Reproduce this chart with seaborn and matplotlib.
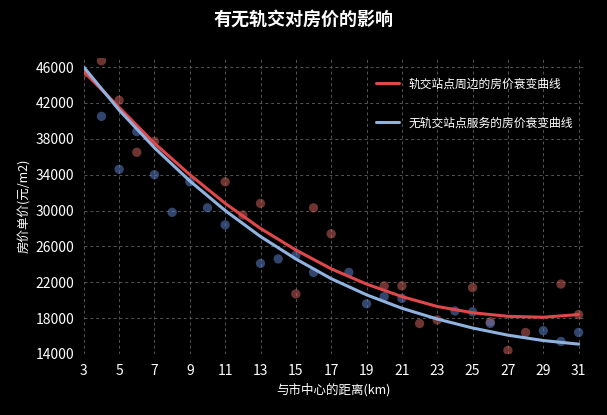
import matplotlib
matplotlib.use("Agg")
import matplotlib.pyplot as plt
import seaborn as sns
import pandas as pd

sns.set_style("dark")
plt.rcParams['font.family'] = ['Noto Sans CJK SC', 'DejaVu Sans']

red_x = [3,4,5,6,7,11,12,13,15,16,17,20,21,22,23,25,26,27,28,30,31]
red_y = [45300,46700,42300,36500,37700,33200,29500,30800,20700,30300,27400,21600,21600,17400,17800,21400,17600,14400,16400,21800,18400]
blue_x = [4,5,6,7,8,9,10,11,13,14,15,16,18,19,20,21,24,25,26,29,30,31]
blue_y = [40500,34600,38800,34000,29800,33200,30300,28400,24100,24600,25000,23100,23100,19600,20400,20200,18800,18700,17400,16600,15400,16400]
curve_x = [3,5,7,9,11,13,15,17,19,21,23,25,27,29,31]
red_curve = [45500,41500,37500,34000,30800,28000,25600,23500,21800,20400,19300,18600,18200,18100,18400]
blue_curve = [46000,41200,37000,33300,30000,27100,24600,22400,20600,19100,17900,16900,16100,15500,15100]
xticks = list(range(3,32,2))
yticks = list(range(14000,46001,4000))

fig = plt.figure(figsize=(6.07,4.15), dpi=100, facecolor='black')
ax = fig.add_axes([0.138,0.147,0.824,0.713], facecolor='black')

sns.scatterplot(x=red_x, y=red_y, ax=ax, color='#c8605a', s=45, alpha=0.55, edgecolor='none')
sns.scatterplot(x=blue_x, y=blue_y, ax=ax, color='#5a7ec8', s=45, alpha=0.55, edgecolor='none')
sns.lineplot(x=curve_x, y=red_curve, ax=ax, color='#e0474a', lw=2.2, label='轨交站点周边的房价衰变曲线')
sns.lineplot(x=curve_x, y=blue_curve, ax=ax, color='#8fb3e0', lw=2.2, label='无轨交站点服务的房价衰变曲线')

ax.set_xlim(3,31.3)
ax.set_ylim(14000,47000)
ax.set_xticks(xticks)
ax.set_yticks(yticks)
ax.tick_params(colors='white', labelsize=10)
ax.grid(True, color='#555555', ls=(0,(3,3)), lw=0.7)
for s in ax.spines.values():
    s.set_visible(False)
ax.set_xlabel('与市中心的距离(km)', color='white', fontsize=9)
ax.set_ylabel('房价单价(元/m2)', color='white', fontsize=9)
leg = ax.legend(loc='upper right', frameon=False, fontsize=8.5, labelspacing=2.2, handlelength=2.0,
                bbox_to_anchor=(1.0, 0.97))
for t in leg.get_texts():
    t.set_color('white')
fig.text(0.5, 0.955, '有无轨交对房价的影响', color='white', fontsize=13, fontweight='bold', ha='center', va='center')
fig.savefig('out.png', dpi=100, facecolor='black')
